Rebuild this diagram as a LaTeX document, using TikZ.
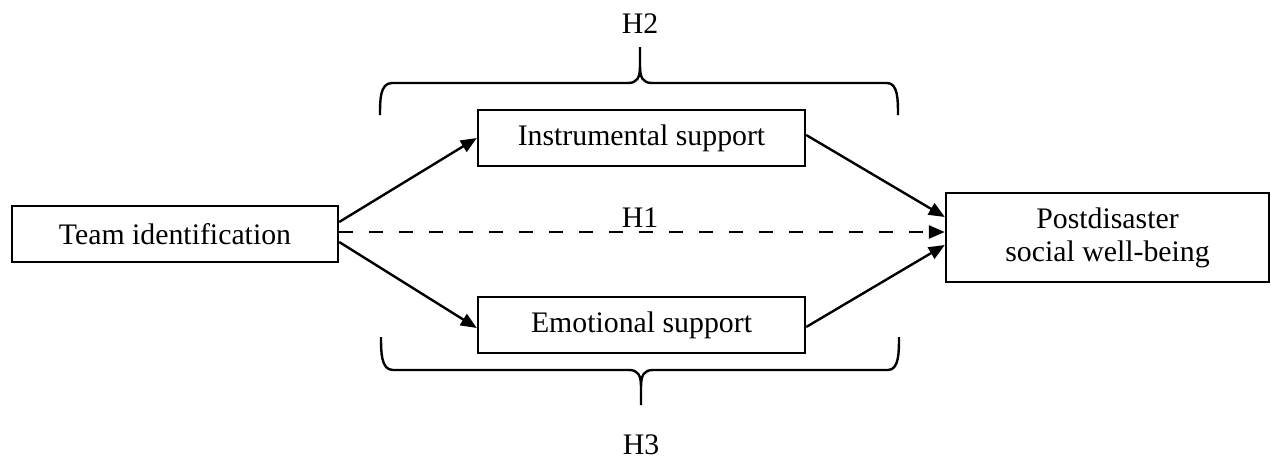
\documentclass[tikz,border=0pt]{standalone}
\usepackage{fontspec}
\setmainfont{Liberation Serif}
\usetikzlibrary{arrows.meta}
\begin{document}
\begin{tikzpicture}[x=1pt,y=-1pt,
  box/.style={draw,line width=2.4pt,inner sep=0pt,align=center,font=\fontsize{29.8}{33}\selectfont},
  arr/.style={line width=2.4pt,-{Triangle[length=16pt,width=13pt]}},
  brace/.style={line width=2.4pt,line join=round},
  lbl/.style={font=\fontsize{29.8}{33}\selectfont,inner sep=0pt}]
\useasboundingbox (0,0) rectangle (1271,461);
\node[box,minimum width=326pt,minimum height=56pt] (team) at (175,234) {Team identification};
\node[box,minimum width=327pt,minimum height=56pt] (inst) at (641.5,138) {Instrumental support};
\node[box,minimum width=327pt,minimum height=56pt] (emo) at (641.5,325) {Emotional support};
\node[box,minimum width=323pt,minimum height=89pt] (post) at (1107.5,237.5) {Postdisaster\\social well-being};
\node[lbl,anchor=base] (h2) at (640,33) {H2};
\node[lbl,anchor=base] (h1) at (640,227) {H1};
\node[lbl,anchor=base] (h3) at (641,454) {H3};
% arrows
\draw[arr] ([yshift=12pt]team.east) -- (inst.west);
\draw[arr] ([yshift=-8pt]team.east) -- ([yshift=-3pt]emo.west);
\draw[arr,dash pattern=on 14pt off 16pt] ([yshift=2pt]team.east) -- ([yshift=5.5pt]post.west);
\draw[arr] ([yshift=3pt]inst.east) -- ([yshift=20.5pt]post.west);
\draw[arr] ([yshift=-2pt]emo.east) -- ([yshift=-7.5pt]post.west);
% top brace
\draw[brace] (380,115) .. controls (380,100) and (380,83) .. (392,83) -- (628,83)
  .. controls (637,83) and (640,78) .. (640,66) -- (640,47)
  (640,66) .. controls (640,78) and (643,83) .. (652,83) -- (887,83)
  .. controls (898,83) and (898,100) .. (898,115);
% bottom brace
\draw[brace] (381,337) .. controls (381,352) and (381,370) .. (393,370) -- (629,370)
  .. controls (638,370) and (641,375) .. (641,387) -- (641,405)
  (641,387) .. controls (641,375) and (644,370) .. (653,370) -- (888,370)
  .. controls (899,370) and (899,352) .. (899,337);
\end{tikzpicture}
\end{document}
